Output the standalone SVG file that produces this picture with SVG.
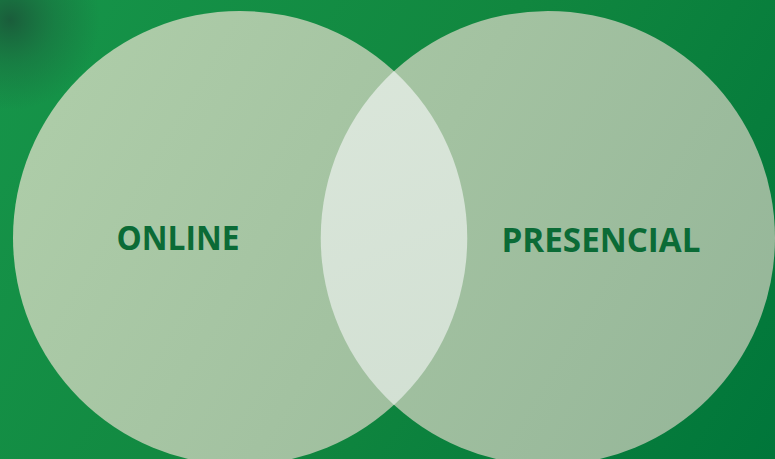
<svg xmlns="http://www.w3.org/2000/svg" width="775" height="459" viewBox="0 0 775 459">
  <defs>
    <linearGradient id="bg" x1="0" y1="0" x2="775" y2="459" gradientUnits="userSpaceOnUse">
      <stop offset="0" stop-color="#16954a"/>
      <stop offset="0.5" stop-color="#11873f"/>
      <stop offset="1" stop-color="#00763a"/>
    </linearGradient>
    <radialGradient id="corner" cx="10" cy="20" r="90" gradientUnits="userSpaceOnUse">
      <stop offset="0" stop-color="#1a5a3a" stop-opacity="0.95"/>
      <stop offset="0.5" stop-color="#1a6a3e" stop-opacity="0.5"/>
      <stop offset="1" stop-color="#1a6a3e" stop-opacity="0"/>
    </radialGradient>
    <linearGradient id="circ" x1="0" y1="0" x2="775" y2="459" gradientUnits="userSpaceOnUse">
      <stop offset="0" stop-color="#b0cfaa"/>
      <stop offset="0.5" stop-color="#a3c2a1"/>
      <stop offset="1" stop-color="#94b598"/>
    </linearGradient>
    <linearGradient id="lens" x1="320" y1="71" x2="470" y2="405" gradientUnits="userSpaceOnUse">
      <stop offset="0" stop-color="#dae6da"/>
      <stop offset="1" stop-color="#d2e0d3"/>
    </linearGradient>
    <style>
      .label { font-family: "Open Sans", "Liberation Sans", sans-serif; font-weight: bold; font-size: 34px; fill: #0b6b36; text-anchor: middle; }
    </style>
  </defs>
  <rect width="775" height="459" fill="url(#bg)"/>
  <rect width="200" height="160" fill="url(#corner)"/>
  <g id="online">
    <circle cx="240" cy="238" r="227" fill="url(#circ)"/>
  </g>
  <g id="presencial">
    <circle cx="548" cy="238" r="227" fill="url(#circ)"/>
  </g>
  <g id="intersection">
    <path d="M394,71 A227,227 0 0,1 394,405 A227,227 0 0,1 394,71 Z" fill="url(#lens)"/>
  </g>
  <g id="connectors"/>
  <text class="label" x="178" y="250" textLength="123" lengthAdjust="spacingAndGlyphs">ONLINE</text>
  <text class="label" x="601" y="252" textLength="199" lengthAdjust="spacingAndGlyphs">PRESENCIAL</text>
</svg>
